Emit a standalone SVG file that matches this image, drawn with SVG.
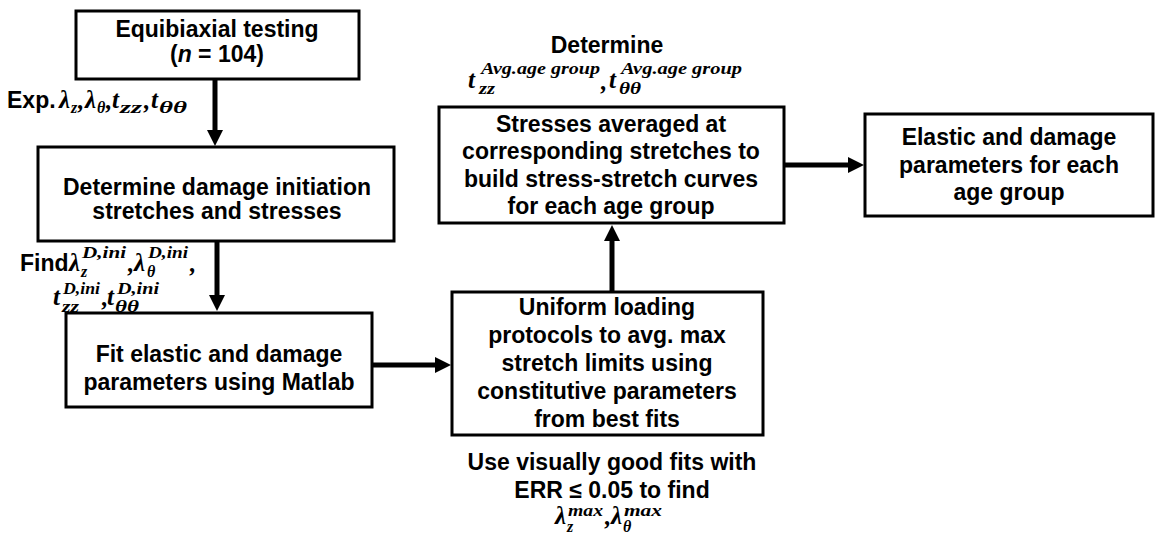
<svg xmlns="http://www.w3.org/2000/svg" width="1155" height="538" viewBox="0 0 1155 538">
<style>
.box{fill:#fff;stroke:#000;stroke-width:3}
.t{font-family:"Liberation Sans",Arial,sans-serif;font-weight:bold;font-size:23px;fill:#000;text-anchor:middle}
.l{font-family:"Liberation Sans",Arial,sans-serif;font-weight:bold;font-size:23px;fill:#000}
.m{font-family:"Liberation Serif","Times New Roman",serif;font-weight:bold;font-style:italic;font-size:25px;fill:#000}
.s{font-family:"Liberation Serif","Times New Roman",serif;font-weight:bold;font-style:italic;font-size:16px;fill:#000}
.c{fill:none;stroke:#000;stroke-width:5}
</style>
<defs>
<marker id="ah" viewBox="0 0 16 16" markerWidth="16" markerHeight="16" markerUnits="userSpaceOnUse" refX="1" refY="8" orient="auto">
<path d="M0,0 L16,8 L0,16 z" fill="#000"/>
</marker>
</defs>
<rect width="1155" height="538" fill="#fff"/>
<g id="connectors">
<line class="c" x1="215" y1="79" x2="215" y2="131" marker-end="url(#ah)"/>
<line class="c" x1="217" y1="241" x2="217" y2="296" marker-end="url(#ah)"/>
<line class="c" x1="372" y1="365" x2="436" y2="365" marker-end="url(#ah)"/>
<line class="c" x1="612" y1="292" x2="612" y2="240" marker-end="url(#ah)"/>
<line class="c" x1="784" y1="165" x2="849" y2="165" marker-end="url(#ah)"/>
</g>
<g id="n1">
<rect class="box" x="76" y="11" width="283" height="68"/>
<text class="t" x="217" y="37">Equibiaxial testing</text>
<text class="t" x="217" y="62">(<tspan font-style="italic">n</tspan> = 104)</text>
</g>
<g id="label-exp">
<text class="l" x="7" y="108">Exp.</text>
<text class="m" x="59" y="108">λ</text><text class="s" x="71" y="113">z</text><text class="m" x="78" y="109">,</text>
<text class="m" x="85" y="108">λ</text><text class="s" x="97" y="113">θ</text><text class="m" x="106" y="109">,</text>
<text class="m" x="112" y="108">t</text><text class="s" x="120" y="113" textLength="22" lengthAdjust="spacingAndGlyphs">zz</text><text class="m" x="144" y="109">,</text>
<text class="m" x="151" y="108">t</text><text class="s" x="159" y="113" textLength="28" lengthAdjust="spacingAndGlyphs">θθ</text>
</g>
<g id="n2">
<rect class="box" x="38" y="147" width="356" height="94"/>
<text class="t" x="217" y="195">Determine damage initiation</text>
<text class="t" x="217" y="219">stretches and stresses</text>
</g>
<g id="label-find">
<text class="l" x="20" y="271">Find</text>
<text class="m" x="69" y="271">λ</text><text class="s" x="81" y="277">z</text><text class="s" x="82" y="258" textLength="44" lengthAdjust="spacingAndGlyphs">D,ini</text><text class="m" x="128" y="272">,</text>
<text class="m" x="134" y="271">λ</text><text class="s" x="147" y="277">θ</text><text class="s" x="148" y="258" textLength="40" lengthAdjust="spacingAndGlyphs">D,ini</text><text class="m" x="190" y="272">,</text>
<text class="m" x="53" y="305">t</text><text class="s" x="62" y="312" textLength="17" lengthAdjust="spacingAndGlyphs">zz</text><text class="s" x="63" y="294" textLength="37" lengthAdjust="spacingAndGlyphs">D,ini</text><text class="m" x="102" y="306">,</text>
<text class="m" x="107" y="305">t</text><text class="s" x="115" y="312" textLength="24" lengthAdjust="spacingAndGlyphs">θθ</text><text class="s" x="117" y="294" textLength="42" lengthAdjust="spacingAndGlyphs">D,ini</text>
</g>
<g id="n3">
<rect class="box" x="66" y="313" width="306" height="94"/>
<text class="t" x="219" y="362">Fit elastic and damage</text>
<text class="t" x="219" y="390">parameters using Matlab</text>
</g>
<g id="n4">
<rect class="box" x="452" y="292" width="311" height="143"/>
<text class="t" x="607" y="315">Uniform loading</text>
<text class="t" x="607" y="343">protocols to avg. max</text>
<text class="t" x="607" y="371">stretch limits using</text>
<text class="t" x="607" y="399">constitutive parameters</text>
<text class="t" x="607" y="427">from best fits</text>
</g>
<g id="label-use">
<text class="t" x="612" y="470">Use visually good fits with</text>
<text class="t" x="612" y="498">ERR ≤ 0.05 to find</text>
<text class="m" x="555" y="524">λ</text><text class="s" x="567" y="532">z</text><text class="s" x="568" y="516" textLength="35" lengthAdjust="spacingAndGlyphs">max</text><text class="m" x="605" y="525">,</text>
<text class="m" x="611" y="524">λ</text><text class="s" x="623" y="532">θ</text><text class="s" x="624" y="516" textLength="38" lengthAdjust="spacingAndGlyphs">max</text>
</g>
<g id="n5">
<rect class="box" x="439" y="107" width="345" height="116"/>
<text class="t" x="611" y="132">Stresses averaged at</text>
<text class="t" x="611" y="159">corresponding stretches to</text>
<text class="t" x="611" y="187">build stress-stretch curves</text>
<text class="t" x="611" y="214">for each age group</text>
</g>
<g id="label-det">
<text class="t" x="607" y="53">Determine</text>
<text class="m" x="468" y="88">t</text><text class="s" x="479" y="94" textLength="16" lengthAdjust="spacingAndGlyphs">zz</text><text class="s" x="481" y="74" textLength="119" lengthAdjust="spacingAndGlyphs">Avg.age group</text><text class="m" x="601" y="90">,</text>
<text class="m" x="609" y="88">t</text><text class="s" x="619" y="94" textLength="22" lengthAdjust="spacingAndGlyphs">θθ</text><text class="s" x="621" y="74" textLength="121" lengthAdjust="spacingAndGlyphs">Avg.age group</text>
</g>
<g id="n6">
<rect class="box" x="865" y="114" width="288" height="102"/>
<text class="t" x="1009" y="145">Elastic and damage</text>
<text class="t" x="1009" y="173">parameters for each</text>
<text class="t" x="1009" y="200">age group</text>
</g>
</svg>
